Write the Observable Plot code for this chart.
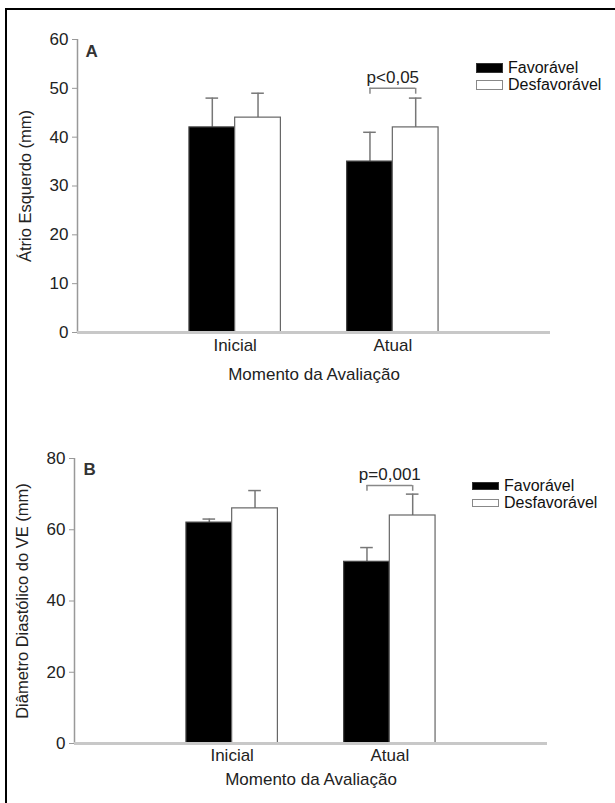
<!DOCTYPE html>
<html>
<head>
<meta charset="utf-8">
<script src="https://cdn.jsdelivr.net/npm/d3@7"></script>
<script src="https://cdn.jsdelivr.net/npm/@observablehq/plot@0.6"></script>
<style>
  html, body { margin: 0; padding: 0; background: #fff; }
  #page { position: relative; width: 615px; height: 803px; overflow: hidden; font-family: "Liberation Sans", Arial, sans-serif; }
  #frame { position: absolute; left: 5px; top: 8px; width: 700px; height: 900px; border-left: 2px solid #000; border-top: 2px solid #000; }
  .panel { position: absolute; left: 0; }
  .legend { position: absolute; font-size: 16px; color: #111; line-height: 17px; }
  .legend .row { display: flex; align-items: center; height: 17px; }
  .legend .sw { width: 27px; height: 8px; margin-right: 5px; box-sizing: border-box; }
</style>
</head>
<body>
<div id="page">
  <div id="frame"></div>
</div>
<script>
// ---- data ----
const momentos = ["Inicial", "Atual"];
const grupos = ["Favorável", "Desfavorável"];
const grupoCores = ["#000000", "#ffffff"];

// Painel A: Átrio Esquerdo (mm)
const atrioFav = [42, 35];
const atrioFavDP = [6, 6];
const atrioDesf = [44, 42];
const atrioDesfDP = [5, 6];
const ticksA = [0, 10, 20, 30, 40, 50, 60];
const pTextoA = "p<0,05";
const pNivelA = 50;

// Painel B: Diâmetro Diastólico do VE (mm)
const dveFav = [62, 51];
const dveFavDP = [1, 4];
const dveDesf = [66, 64];
const dveDesfDP = [5, 6];
const ticksB = [0, 20, 40, 60, 80];
const pTextoB = "p=0,001";
const pNivelB = 72.4;

const xTitulo = "Momento da Avaliação";

// ---- build ----
const W = 0.29; // bar width in x units (band spacing = 1)

function rows(fav, favDP, desf, desfDP) {
  const out = [];
  momentos.forEach((m, i) => {
    const pos = i + 1;
    [[fav, favDP], [desf, desfDP]].forEach(([v, dp], g) => {
      const x1 = pos + (g - 1) * W;
      out.push({momento: m, grupo: grupos[g], g, x1, x2: x1 + W, c: x1 + W / 2, v: v[i], top: v[i] + dp[i]});
    });
  });
  return out;
}

function panel({data, ticks, ymax, letter, ytitle, pText, pLevel, capDrop, m, h, letterDx, letterDy, xTickPad, xTitleDy}) {
  const atual = data.filter(d => d.momento === "Atual");
  const c1 = atual[0].c, c2 = atual[1].c;
  const br = [{x: c1, y1: pLevel - capDrop, y2: pLevel}, {x: c2, y1: pLevel - capDrop, y2: pLevel}];
  return Plot.plot({
    width: 615,
    height: h,
    marginTop: m.top, marginBottom: m.bottom, marginLeft: m.left, marginRight: m.right,
    style: {fontFamily: "Liberation Sans, Arial, sans-serif", fontSize: "16px", color: "#222", background: "transparent"},
    x: {type: "linear", domain: [0, 3]},
    y: {domain: [0, ymax]},
    marks: [
      // error bars
      Plot.ruleX(data, {x: "c", y1: "v", y2: "top", stroke: "#777", strokeWidth: 1.5}),
      Plot.ruleY(data, {y: "top", x1: d => d.c - 0.04, x2: d => d.c + 0.04, stroke: "#777", strokeWidth: 1.5}),
      // bars
      Plot.rectY(data, {x1: "x1", x2: "x2", y1: 0, y2: "v", fill: d => grupoCores[d.g], stroke: d => d.g === 0 ? "#444" : "#666", strokeWidth: 1.2}),
      // axes
      Plot.ruleX([0], {y1: 0, y2: ymax, stroke: "#999", strokeWidth: 1.5}),
      Plot.ruleY([0], {x1: 0, x2: 3, stroke: "#c8c8c8", strokeWidth: 3}),
      Plot.axisY({ticks, tickSize: 5, tickPadding: 4, label: null, stroke: "#999", fontSize: 17, fill: "#222"}),
      Plot.axisX({ticks: [1, 2], tickFormat: d => momentos[d - 1], tickSize: 0, tickPadding: xTickPad, label: null, fontSize: 17, fill: "#222"}),
      // titles
      Plot.text([ytitle], {frameAnchor: "left", dx: -52, rotate: -90, textAnchor: "middle", lineAnchor: "middle", text: d => d, fontSize: 16.5, fill: "#222"}),
      Plot.text([xTitulo], {frameAnchor: "bottom", dy: xTitleDy, text: d => d, fontSize: 17, fill: "#222"}),
      Plot.text([letter], {frameAnchor: "top-left", dx: letterDx, dy: letterDy, lineAnchor: "top", textAnchor: "start", text: d => d, fontSize: 17, fontWeight: "bold", fill: "#333"}),
      // significance bracket
      Plot.ruleY([pLevel], {x1: c1, x2: c2, stroke: "#888", strokeWidth: 1.5}),
      Plot.ruleX(br, {x: "x", y1: "y1", y2: "y2", stroke: "#888", strokeWidth: 1.5}),
      Plot.text([pText], {x: (c1 + c2) / 2, y: pLevel, dy: -11, text: d => d, fontSize: 17, fill: "#222"})
    ]
  });
}

const page = document.getElementById("page");

const A = panel({
  data: rows(atrioFav, atrioFavDP, atrioDesf, atrioDesfDP), ticks: ticksA, ymax: 60,
  letter: "A", ytitle: "Átrio Esquerdo (mm)", pText: pTextoA, pLevel: pNivelA, capDrop: 1.2,
  m: {top: 39, bottom: 68, left: 77, right: 65}, h: 400, letterDx: 8, letterDy: 5, xTickPad: 6, xTitleDy: 47
});
A.classList.add("panel"); A.style.top = "0px";
page.appendChild(A);

const B = panel({
  data: rows(dveFav, dveFavDP, dveDesf, dveDesfDP), ticks: ticksB, ymax: 80,
  letter: "B", ytitle: "Diâmetro Diastólico do VE (mm)", pText: pTextoB, pLevel: pNivelB, capDrop: 1.6,
  m: {top: 48, bottom: 60, left: 74, right: 68}, h: 393, letterDx: 9, letterDy: 4, xTickPad: 5, xTitleDy: 41
});
B.classList.add("panel"); B.style.top = "410px";
page.appendChild(B);

function legend(left, top, swH) {
  const div = document.createElement("div");
  div.className = "legend";
  div.style.left = left + "px";
  div.style.top = top + "px";
  grupos.forEach((g, i) => {
    const row = document.createElement("div");
    row.className = "row";
    const sw = document.createElement("div");
    sw.className = "sw";
    sw.style.height = swH + "px";
    sw.style.background = grupoCores[i];
    sw.style.border = i === 0 ? "1px solid #333" : "1.5px solid #888";
    const t = document.createElement("span");
    t.textContent = g;
    row.appendChild(sw); row.appendChild(t);
    div.appendChild(row);
  });
  page.appendChild(div);
}
legend(476, 59, 10);
legend(472, 477, 8);
</script>
</body>
</html>
